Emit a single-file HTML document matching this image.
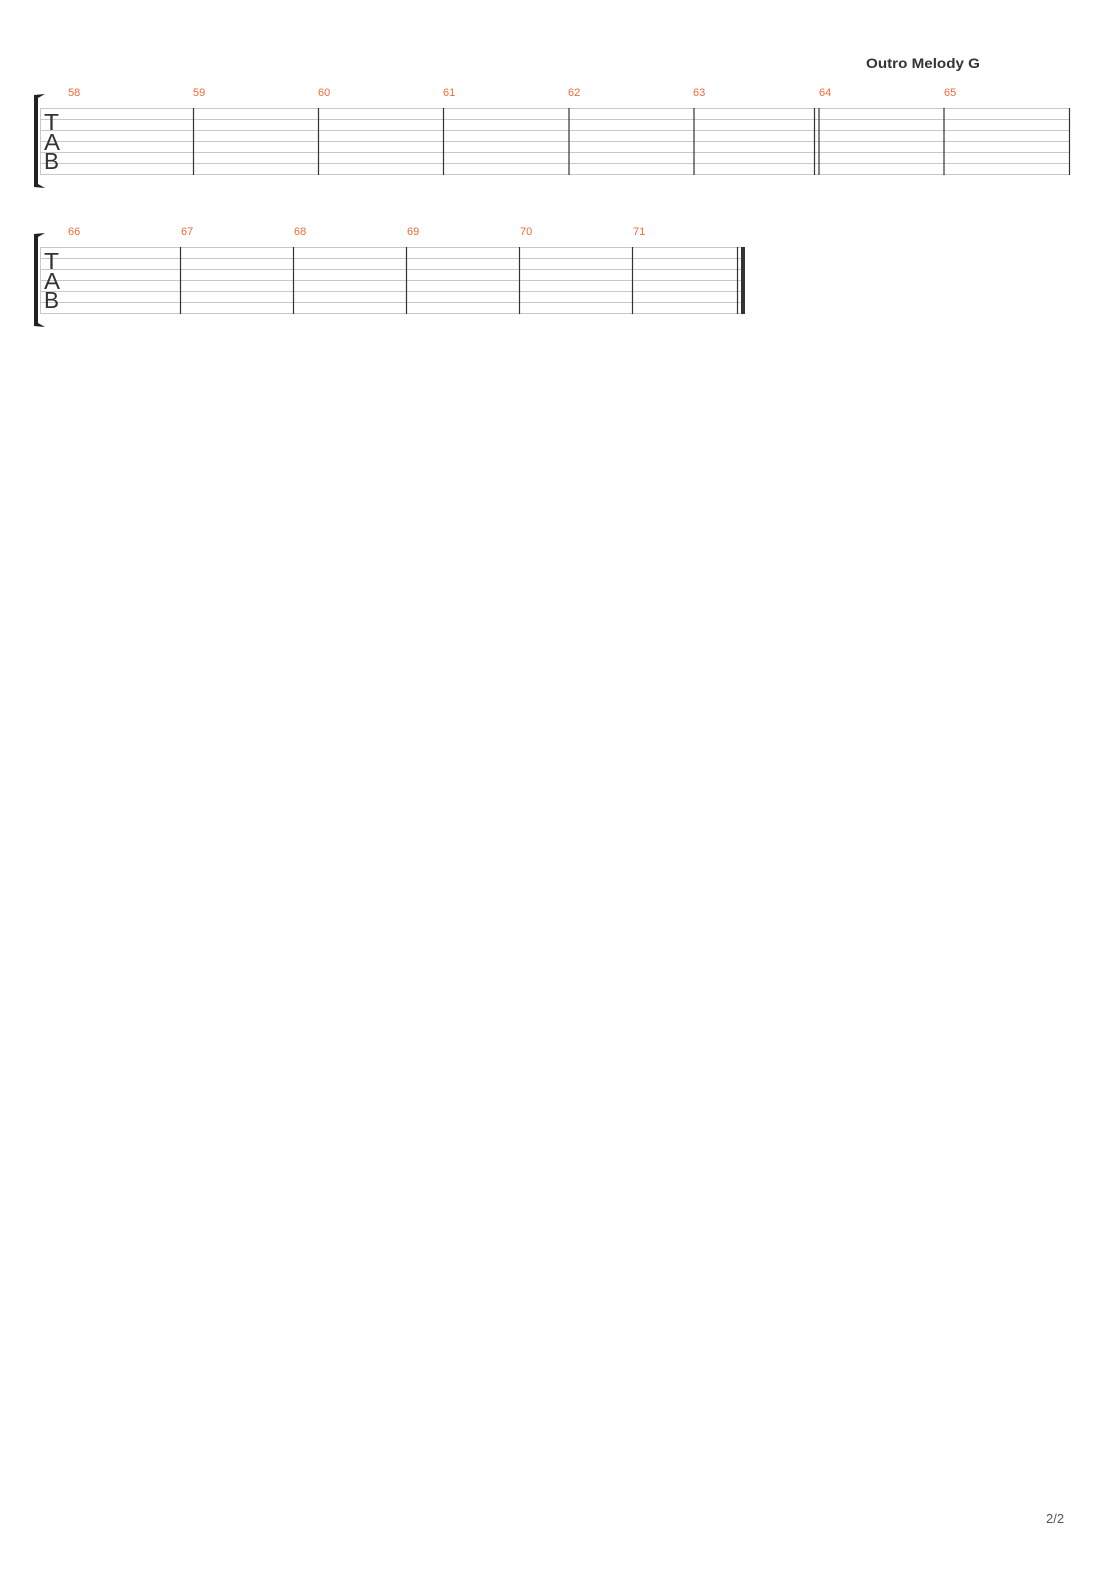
<!DOCTYPE html>
<html><head><meta charset="utf-8"><style>
html,body{margin:0;padding:0;background:#fff;}
svg{display:block;}
text{font-family:"Liberation Sans",sans-serif;}
</style></head><body>
<svg width="1110" height="1570" viewBox="0 0 1110 1570" xmlns="http://www.w3.org/2000/svg">
<text x="866" y="68" font-size="14" font-weight="bold" fill="#333" textLength="114" lengthAdjust="spacingAndGlyphs">Outro Melody G</text>
<g stroke="#c8c8c8" stroke-width="1">
<line x1="40" x2="1070" y1="108.5" y2="108.5"/><line x1="40" x2="1070" y1="119.5" y2="119.5"/>
<line x1="40" x2="1070" y1="130.5" y2="130.5"/><line x1="40" x2="1070" y1="141.5" y2="141.5"/>
<line x1="40" x2="1070" y1="152.5" y2="152.5"/><line x1="40" x2="1070" y1="163.5" y2="163.5"/>
<line x1="40" x2="1070" y1="174.5" y2="174.5"/>
<line x1="40" x2="745" y1="247.5" y2="247.5"/><line x1="40" x2="745" y1="258.5" y2="258.5"/>
<line x1="40" x2="745" y1="269.5" y2="269.5"/><line x1="40" x2="745" y1="280.5" y2="280.5"/>
<line x1="40" x2="745" y1="291.5" y2="291.5"/><line x1="40" x2="745" y1="302.5" y2="302.5"/>
<line x1="40" x2="745" y1="313.5" y2="313.5"/>
<line x1="40.5" x2="40.5" y1="108" y2="175"/><line x1="40.5" x2="40.5" y1="247" y2="314"/>
</g>
<g stroke="#333" stroke-width="1.2">
<line x1="193.5" x2="193.5" y1="108" y2="175"/><line x1="318.5" x2="318.5" y1="108" y2="175"/>
<line x1="443.5" x2="443.5" y1="108" y2="175"/><line x1="569" x2="569" y1="108" y2="175"/>
<line x1="694" x2="694" y1="108" y2="175"/><line x1="814.5" x2="814.5" y1="108" y2="175"/>
<line x1="819" x2="819" y1="108" y2="175"/><line x1="944" x2="944" y1="108" y2="175"/>
<line x1="1069.5" x2="1069.5" y1="108" y2="175"/>
<line x1="180.5" x2="180.5" y1="247" y2="314"/><line x1="293.5" x2="293.5" y1="247" y2="314"/>
<line x1="406.5" x2="406.5" y1="247" y2="314"/><line x1="519.5" x2="519.5" y1="247" y2="314"/>
<line x1="632.5" x2="632.5" y1="247" y2="314"/><line x1="737.5" x2="737.5" y1="247" y2="314"/>
</g>
<rect x="741" y="247" width="4" height="67" fill="#333"/>
<g fill="#222">
<path d="M34 95 L45 94 L38 98 L38 184 L45 188 L34 187 Z"/>
<path d="M34 234 L45 233 L38 237 L38 323 L45 327 L34 326 Z"/>
</g>
<g font-size="23" fill="#333">
<text x="44" y="130" textLength="15" lengthAdjust="spacingAndGlyphs">T</text>
<text x="44" y="150" textLength="16" lengthAdjust="spacingAndGlyphs">A</text>
<text x="44" y="169" textLength="15" lengthAdjust="spacingAndGlyphs">B</text>
<text x="44" y="269" textLength="15" lengthAdjust="spacingAndGlyphs">T</text>
<text x="44" y="289" textLength="16" lengthAdjust="spacingAndGlyphs">A</text>
<text x="44" y="308" textLength="15" lengthAdjust="spacingAndGlyphs">B</text>
</g>
<g font-size="11" fill="#f26a3a">
<text x="68" y="96">58</text><text x="193" y="96">59</text><text x="318" y="96">60</text>
<text x="443" y="96">61</text><text x="568" y="96">62</text><text x="693" y="96">63</text>
<text x="819" y="96">64</text><text x="944" y="96">65</text>
<text x="68" y="235">66</text><text x="181" y="235">67</text><text x="294" y="235">68</text>
<text x="407" y="235">69</text><text x="520" y="235">70</text><text x="633" y="235">71</text>
</g>
<text x="1046" y="1523" font-size="13" fill="#555">2/2</text>
</svg>
</body></html>
